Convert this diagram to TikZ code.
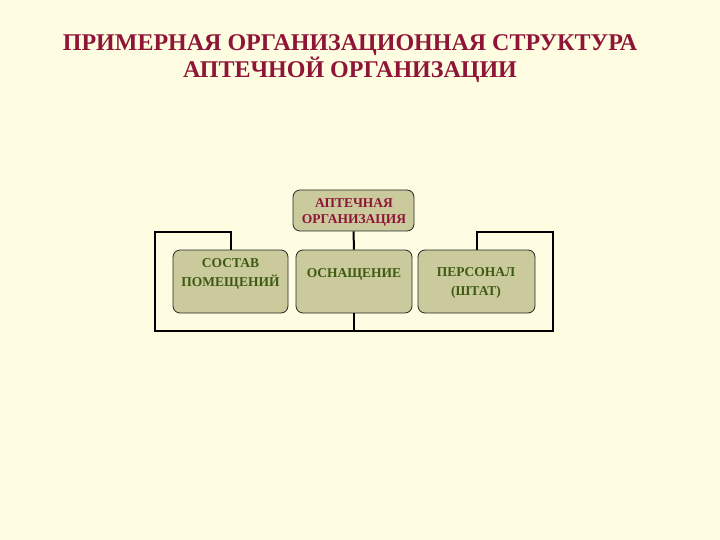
\documentclass[tikz,border=0pt]{standalone}
\usepackage{fontspec}
\setmainfont{Liberation Serif}
\definecolor{bg}{HTML}{FEFDE2}
\definecolor{boxf}{HTML}{CACA9C}
\definecolor{tred}{HTML}{8E1537}
\definecolor{tgreen}{HTML}{3C5A10}
\begin{document}
\begin{tikzpicture}[x=1pt,y=-1pt,
  box/.style={draw=black!85,line width=0.8pt,fill=boxf,rounded corners=7pt,minimum width=#1,inner sep=0pt},
  lbl/.style={font=\bfseries\fontsize{13.5}{19}\selectfont,text=tgreen,align=center,inner sep=0pt},
  link/.style={line width=2pt}]
\fill[bg] (0,0) rectangle (720,540);
\useasboundingbox (0,0) rectangle (720,540);
\node[text=tred,font=\bfseries\fontsize{24}{27}\selectfont,align=center] (title) at (350,59) {ПРИМЕРНАЯ ОРГАНИЗАЦИОННАЯ СТРУКТУРА\\АПТЕЧНОЙ ОРГАНИЗАЦИИ};
\node[box=121pt,minimum height=41pt] (top) at (353.5,210.5) {};
\node[text=tred,font=\bfseries\fontsize{13.5}{16}\selectfont,align=center,inner sep=0pt] (tt) at (354,212) {АПТЕЧНАЯ\\ОРГАНИЗАЦИЯ};
\node[box=115pt,minimum height=63pt] (left) at (230.5,281.5) {};
\node[lbl] (lt) at (230.5,274) {СОСТАВ\\ПОМЕЩЕНИЙ};
\node[box=116pt,minimum height=63pt] (mid) at (354,281.5) {};
\node[lbl] (mt) at (354,274) {ОСНАЩЕНИЕ};
\node[box=117pt,minimum height=63pt] (right) at (476.5,281.5) {};
\node[lbl] (rt) at (476,283) {ПЕРСОНАЛ\\(ШТАТ)};
\coordinate (b) at (354,331);
\draw[link] (top.south) -- (mid.north);
\draw[link] (mid.south) -- (b);
\draw[link] (left.north -| 231,0) |- (155,232) |- (553,331) |- (477,232) -- (right.north -| 477,0);
\end{tikzpicture}
\end{document}
